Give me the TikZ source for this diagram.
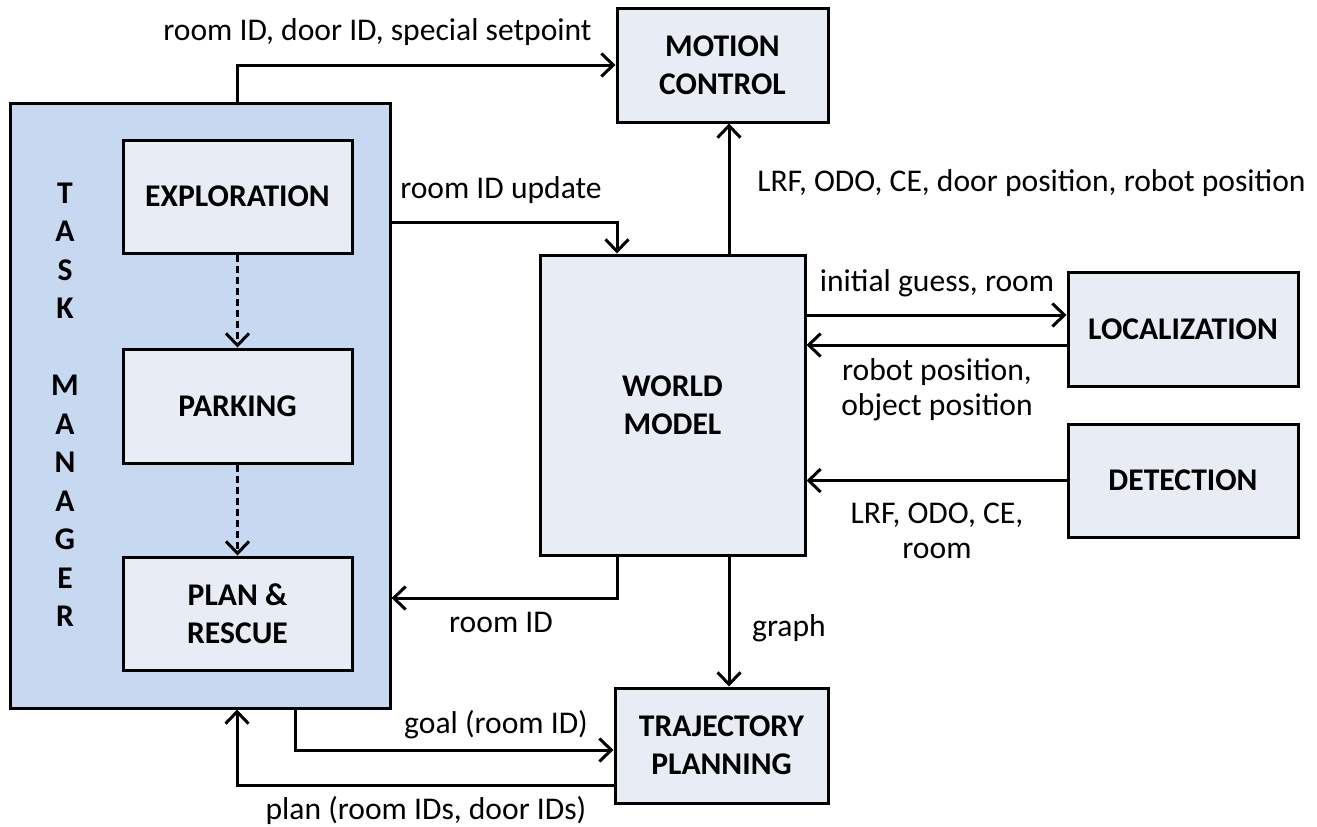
\documentclass[tikz,border=0pt]{standalone}
\usepackage{fontspec}
\setmainfont{Carlito}
\usetikzlibrary{arrows.meta}
\definecolor{tmfill}{RGB}{198,217,240}
\definecolor{boxfill}{RGB}{232,237,245}
\tikzset{
  box/.style={draw, line width=1.5pt, fill=boxfill, align=center, inner sep=0pt,
    font=\bfseries\fontsize{15.8}{19}\selectfont},
  arr/.style={line width=1.5pt, -{Straight Barb[length=6pt,width=11.5pt]}},
  dotarr/.style={arr, dash pattern=on 3.5pt off 2pt},
  lbl/.style={align=center, inner sep=0pt, font=\fontsize{15.8}{17.5}\selectfont}
}
\begin{document}
\begin{tikzpicture}[x=0.5pt,y=-0.5pt]
\useasboundingbox (0,0) rectangle (1317,826);
% task manager
\node[draw, line width=1.5pt, fill=tmfill, minimum width=190pt, minimum height=302.5pt, inner sep=0pt] (tm) at (200,405.5) {};
\node[align=center, inner sep=0pt, font=\bfseries\fontsize{15.8}{19.25}\selectfont] (tmlabel) at (65,404.75)
  {T\\A\\S\\K\\[19.25pt]M\\A\\N\\A\\G\\E\\R};
\node[box, minimum width=114.5pt, minimum height=56.5pt] (expl) at (237.5,196.5) {EXPLORATION};
\node[box, minimum width=114.5pt, minimum height=57pt] (park) at (237.5,406) {PARKING};
\node[box, minimum width=114.5pt, minimum height=56.5pt] (plan) at (237.5,613.5) {PLAN \&\\RESCUE};
% other modules
\node[box, minimum width=105.5pt, minimum height=57pt] (mc) at (722.5,65) {MOTION\\CONTROL};
\node[box, minimum width=132.5pt, minimum height=150pt] (wm) at (672.5,405) {WORLD\\MODEL};
\node[box, minimum width=115pt, minimum height=57pt] (loc) at (1183,329) {LOCALIZATION};
\node[box, minimum width=115pt, minimum height=56.5pt] (det) at (1183,480.5) {DETECTION};
\node[box, minimum width=106.5pt, minimum height=57.5pt] (tp) at (721.5,745.5) {TRAJECTORY\\PLANNING};
% helper coordinates
\coordinate (cRU) at (617,222);
\coordinate (cRI) at (617,598);
\coordinate (cA) at (729,0);
\coordinate (cL1) at (0,315);
\coordinate (cL2) at (0,345);
\coordinate (cG) at (295,750);
\coordinate (cP) at (237,785);
% connectors
\draw[arr] (expl.north |- tm.north) |- (mc.west);
\draw[arr] (wm.north -| cA) -- (mc.south -| cA);
\draw[arr] (tm.east |- cRU) -| (wm.north -| cRU);
\draw[arr] (wm.east |- cL1) -- (loc.west |- cL1);
\draw[arr] (loc.west |- cL2) -- (wm.east |- cL2);
\draw[arr] (det.west) -- (wm.east |- det.west);
\draw[arr] (wm.south -| cRI) |- (tm.east |- cRI);
\draw[arr] (wm.south -| cA) -- (tp.north -| cA);
\draw[arr] (tm.south -| cG) |- (tp.west |- cG);
\draw[arr] (tp.west |- cP) -| (tm.south -| cP);
\draw[dotarr] (expl) -- (park);
\draw[dotarr] (park) -- (plan);
% labels
\node[lbl] (l1) at (377.5,32) {room ID, door ID, special setpoint};
\node[lbl] (l2) at (1031.5,183) {LRF, ODO, CE, door position, robot position};
\node[lbl] (l3) at (501,190) {room ID update};
\node[lbl] (l4) at (937,283) {initial guess, room};
\node[lbl] (l5) at (937,389.5) {robot position,\\object position};
\node[lbl] (l6) at (937,530.5) {LRF, ODO, CE,\\room};
\node[lbl] (l7) at (501,622) {room ID};
\node[lbl] (l8) at (789,628) {graph};
\node[lbl] (l9) at (496,725) {goal (room ID)};
\node[lbl] (l10) at (426,810) {plan (room IDs, door IDs)};
\end{tikzpicture}
\end{document}
